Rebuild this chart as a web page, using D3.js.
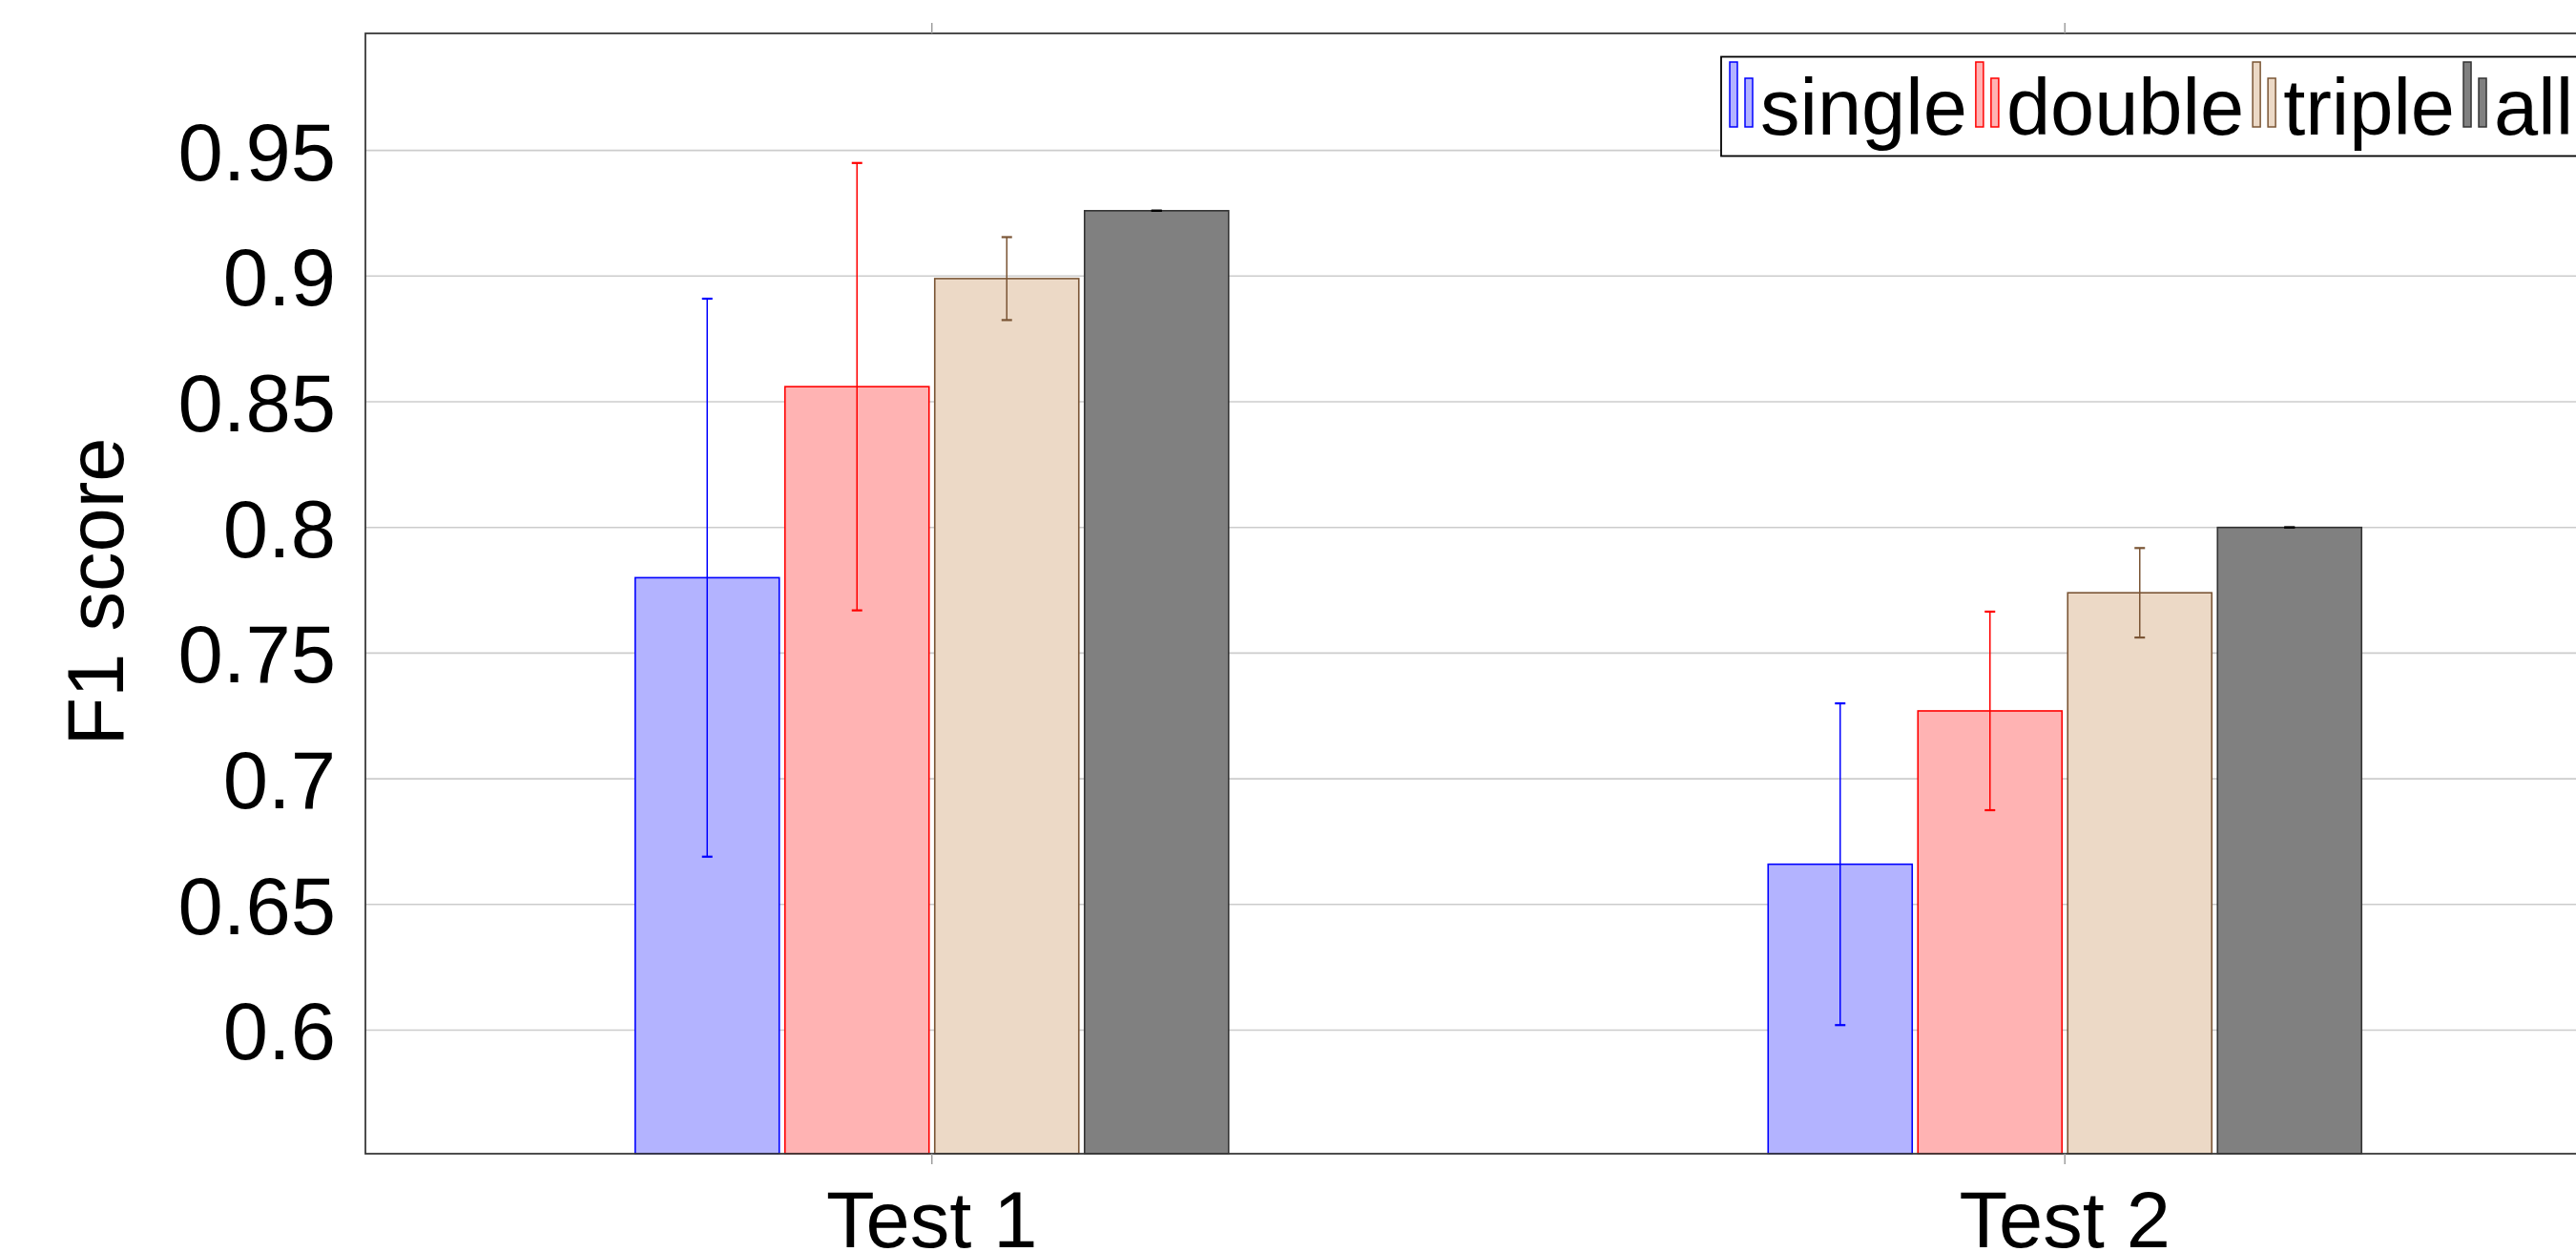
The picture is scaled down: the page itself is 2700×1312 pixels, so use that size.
<!DOCTYPE html>
<html>
<head>
<meta charset="utf-8">
<script src="https://cdn.jsdelivr.net/npm/d3@7"></script>
<style>
  body { margin: 0; background: #fff; }
  svg { display: block; font-family: "Liberation Sans", Arial, sans-serif; }
</style>
</head>
<body>
<script>
// data
var categories = ["Test 1", "Test 2"];
var series = ["single", "double", "triple", "all"];
var singleVals = [0.780, 0.666];
var singleErr = [0.111, 0.064];
var doubleVals = [0.856, 0.727];
var doubleErr = [0.089, 0.0395];
var tripleVals = [0.899, 0.774];
var tripleErr = [0.0165, 0.0178];
var allVals = [0.926, 0.800];
var allErr = [0, 0];
var yTicks = [0.6, 0.65, 0.7, 0.75, 0.8, 0.85, 0.9, 0.95];

var values = [singleVals, doubleVals, tripleVals, allVals];
var errors = [singleErr, doubleErr, tripleErr, allErr];
var fills = ["#b3b3ff", "#ffb3b3", "#ecd9c6", "#808080"];
var strokes = ["#0000ff", "#ff0000", "#7a5535", "#333333"];
var errColors = ["#0000ff", "#ff0000", "#7a5535", "#000000"];

const w = 2700;
const h = 1312;
const plotL = 383, plotR = 2758, plotT = 35, plotB = 1209;
const fontSize = 83;

const svg = d3.select("body")
    .append("svg")
    .attr("width", w)
    .attr("height", h);

// scales
const x0 = d3.scaleBand()
    .domain(categories)
    .range([plotL, plotR]);

const x1 = d3.scaleBand()
    .domain(series)
    .range([-314, 314]);

const y = d3.scaleLinear()
    .domain([0.55083, 0.99655])
    .range([plotB, plotT]);

// grid lines
svg.append("g")
    .selectAll("line")
    .data(yTicks)
    .enter()
    .append("line")
    .attr("x1", plotL)
    .attr("x2", plotR)
    .attr("y1", (d) => y(d))
    .attr("y2", (d) => y(d))
    .attr("stroke", "#cccccc")
    .attr("stroke-width", 1.6);

// bars
var bars = [];
series.forEach(function (s, si) {
    categories.forEach(function (c, ci) {
        bars.push({ s: s, si: si, c: c, v: values[si][ci], e: errors[si][ci] });
    });
});

const inset = 3;
svg.append("g")
    .selectAll("rect")
    .data(bars)
    .enter()
    .append("rect")
    .attr("x", (d) => x0(d.c) + x0.bandwidth() / 2 + x1(d.s) + inset)
    .attr("y", (d) => y(d.v))
    .attr("width", x1.bandwidth() - 2 * inset)
    .attr("height", (d) => plotB - y(d.v))
    .attr("fill", (d) => fills[d.si])
    .attr("stroke", (d) => strokes[d.si])
    .attr("stroke-width", 1.6);

// error bars
const cx = (d) => x0(d.c) + x0.bandwidth() / 2 + x1(d.s) + x1.bandwidth() / 2;
const cap = 5.5;
const eg = svg.append("g").selectAll("g")
    .data(bars)
    .enter()
    .append("g")
    .attr("stroke", (d) => errColors[d.si])
    .attr("stroke-width", 1.5);

eg.append("line")
    .attr("x1", cx).attr("x2", cx)
    .attr("y1", (d) => y(d.v + d.e))
    .attr("y2", (d) => y(d.v - d.e));
eg.append("line")
    .attr("x1", (d) => cx(d) - cap).attr("x2", (d) => cx(d) + cap)
    .attr("y1", (d) => y(d.v + d.e)).attr("y2", (d) => y(d.v + d.e))
    .attr("stroke-width", 2.2);
eg.append("line")
    .attr("x1", (d) => cx(d) - cap).attr("x2", (d) => cx(d) + cap)
    .attr("y1", (d) => y(d.v - d.e)).attr("y2", (d) => y(d.v - d.e))
    .attr("stroke-width", 2.2);

// frame
svg.append("rect")
    .attr("x", plotL)
    .attr("y", plotT)
    .attr("width", plotR - plotL)
    .attr("height", plotB - plotT)
    .attr("fill", "none")
    .attr("stroke", "#3a3a3a")
    .attr("stroke-width", 1.8);

// x ticks, outside on top and bottom
svg.append("g")
    .selectAll("line")
    .data(categories)
    .enter()
    .append("line")
    .attr("x1", (d) => x0(d) + x0.bandwidth() / 2)
    .attr("x2", (d) => x0(d) + x0.bandwidth() / 2)
    .attr("y1", plotB)
    .attr("y2", plotB + 11)
    .attr("stroke", "#999")
    .attr("stroke-width", 1.4);
svg.append("g")
    .selectAll("line")
    .data(categories)
    .enter()
    .append("line")
    .attr("x1", (d) => x0(d) + x0.bandwidth() / 2)
    .attr("x2", (d) => x0(d) + x0.bandwidth() / 2)
    .attr("y1", plotT)
    .attr("y2", plotT - 11)
    .attr("stroke", "#999")
    .attr("stroke-width", 1.4);

// x labels
svg.append("g")
    .selectAll("text")
    .data(categories)
    .enter()
    .append("text")
    .attr("x", (d) => x0(d) + x0.bandwidth() / 2)
    .attr("y", 1307)
    .attr("text-anchor", "middle")
    .style("font-size", fontSize + "px")
    .text((d) => d);

// y labels
svg.append("g")
    .selectAll("text")
    .data(yTicks)
    .enter()
    .append("text")
    .attr("x", 352)
    .attr("y", (d) => y(d) + 31)
    .attr("text-anchor", "end")
    .style("font-size", "85px")
    .text((d) => String(+d.toFixed(2)));

svg.append("text")
    .attr("transform", "translate(129,620) rotate(-90)")
    .attr("text-anchor", "middle")
    .style("font-size", fontSize + "px")
    .text("F1 score");

// legend
const legend = svg.append("g");
legend.append("rect")
    .attr("x", 1804)
    .attr("y", 59.5)
    .attr("width", 910)
    .attr("height", 104)
    .attr("fill", "#fff")
    .attr("stroke", "#000")
    .attr("stroke-width", 1.8);

var lx = 1813;
series.forEach(function (s, si) {
    legend.append("rect")
        .attr("x", lx).attr("y", 65)
        .attr("width", 8).attr("height", 68)
        .attr("fill", fills[si]).attr("stroke", strokes[si]).attr("stroke-width", 1.5);
    legend.append("rect")
        .attr("x", lx + 16).attr("y", 82)
        .attr("width", 8).attr("height", 51)
        .attr("fill", fills[si]).attr("stroke", strokes[si]).attr("stroke-width", 1.5);
    var t = legend.append("text")
        .attr("x", lx + 32)
        .attr("y", 141)
        .style("font-size", fontSize + "px")
        .text(s);
    lx = lx + 32 + t.node().getComputedTextLength() + 9;
});
</script>
</body>
</html>
